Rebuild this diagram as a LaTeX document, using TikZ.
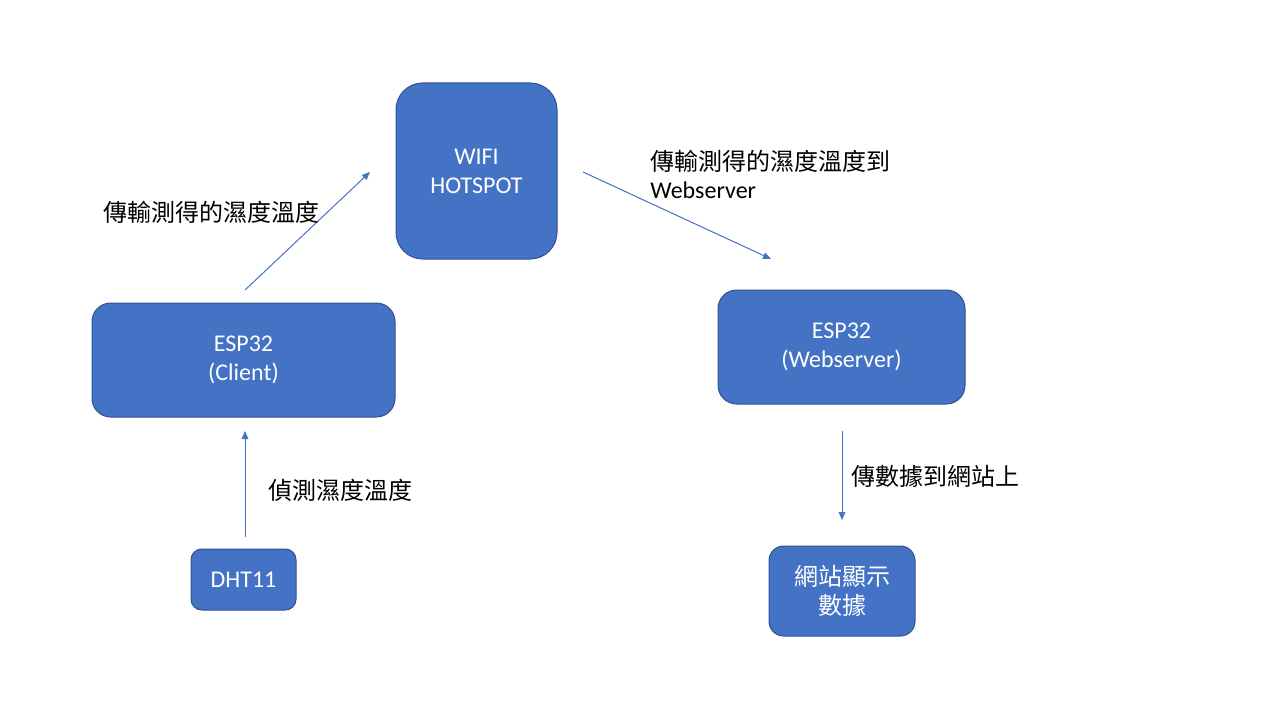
\documentclass[tikz,border=0pt]{standalone}
\usepackage{fontspec}
\setmainfont{Carlito}
\newfontfamily\cjk{Noto Sans CJK TC}
\usetikzlibrary{arrows.meta}
\definecolor{boxfill}{HTML}{4472C4}
\definecolor{boxline}{HTML}{2F528F}
\begin{document}
\begin{tikzpicture}[x=0.75pt,y=-0.75pt,
  blk/.style={draw=boxline,line width=0.75pt,fill=boxfill,text=white,align=center,
    inner sep=0pt,font=\fontsize{18}{21.75}\selectfont},
  lbl/.style={anchor=west,inner sep=0pt,align=left,text=black,font=\fontsize{18}{21}\selectfont},
  conn/.style={draw=boxfill,line width=0.75pt,-{Triangle[length=6pt,width=5pt]}}]
\useasboundingbox (0,0) rectangle (1280,720);
\node[blk,rounded corners=20pt,minimum width=120.75pt,minimum height=132pt] (wifi) at (476.5,171) {WIFI\\HOTSPOT};
\node[blk,rounded corners=14pt,minimum width=227.25pt,minimum height=85.5pt] (client) at (243.5,360) {ESP32\\(Client)};
\node[blk,rounded corners=14pt,minimum width=185.25pt,minimum height=85.5pt] (web) at (841.5,347) {ESP32\\(Webserver)};
\node[blk,rounded corners=8pt,minimum width=78.75pt,minimum height=45.75pt] (dht) at (243.5,579.5) {DHT11};
\node[blk,rounded corners=11pt,minimum width=109.5pt,minimum height=67.5pt] (site) at (842,591) {\cjk 網站顯示\\\cjk 數據};
\coordinate (a1s) at (245,290);
\coordinate (a1e) at (370,172);
\coordinate (a2s) at (583,172);
\coordinate (a2e) at (771,259);
\coordinate (a3s) at (245,537);
\coordinate (a3e) at (245,431);
\coordinate (a4s) at (842,431);
\coordinate (a4e) at (842,520);
\draw[conn] (a1s) -- (a1e);
\draw[conn] (a2s) -- (a2e);
\draw[conn] (a3s) -- (a3e);
\draw[conn] (a4s) -- (a4e);
\node[lbl] (l1) at (103,212) {\cjk 傳輸測得的濕度溫度};
\node[lbl] (l2) at (650,174) {{\cjk 傳輸測得的濕度溫度到}\\Webserver};
\node[lbl] (l3) at (268,490) {\cjk 偵測濕度溫度};
\node[lbl] (l4) at (851,476) {\cjk 傳數據到網站上};
\end{tikzpicture}
\end{document}
